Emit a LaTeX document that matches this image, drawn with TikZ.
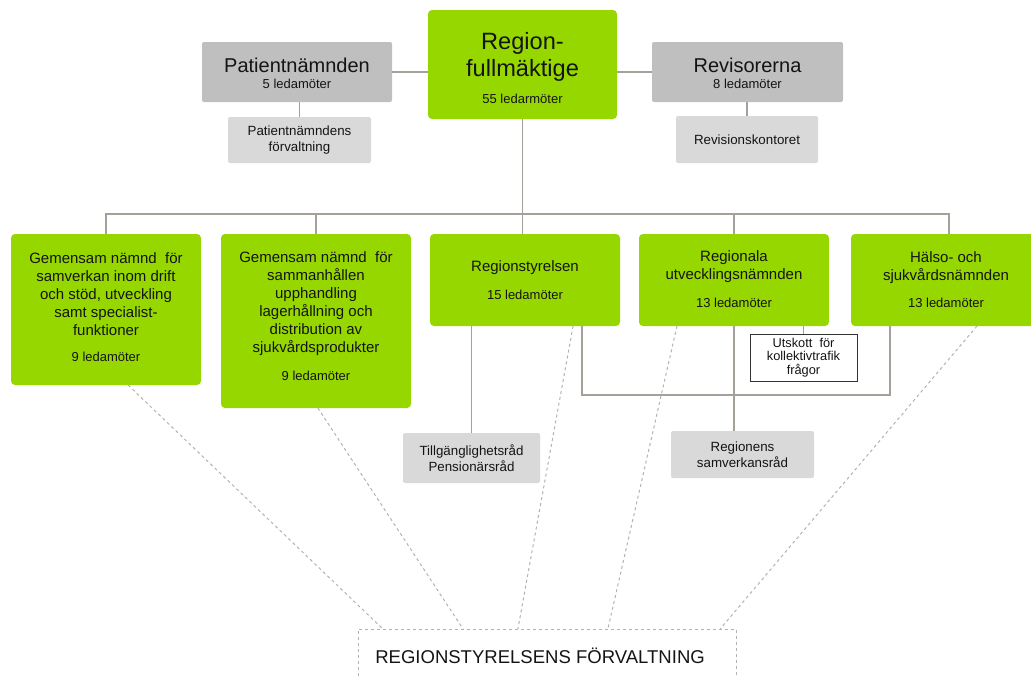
\documentclass[tikz,border=0pt]{standalone}
\usepackage{fontspec}
\setmainfont{Liberation Sans}
\usetikzlibrary{calc}
\definecolor{grn}{RGB}{151,215,0}
\definecolor{gdark}{RGB}{191,191,191}
\definecolor{glight}{RGB}{217,217,217}
\definecolor{conn}{RGB}{166,160,155}
\definecolor{dashgray}{RGB}{178,178,178}
\definecolor{txt}{RGB}{20,20,20}
\tikzset{
  bw/.style={minimum width=#1*0.75pt},
  bh/.style={minimum height=#1*0.75pt},
  boxbase/.style={inner sep=0pt, outer sep=0pt, text=txt, align=center},
  greenbox/.style={boxbase, fill=grn, rounded corners=3pt},
  graybox/.style={boxbase, fill=gdark, rounded corners=1.5pt},
  lightbox/.style={boxbase, fill=glight, rounded corners=1.5pt, font=\fontsize{10}{12}\selectfont},
  whitebox/.style={boxbase, fill=white, draw=black!80, line width=0.75pt, font=\fontsize{9.6}{10.1}\selectfont},
  dashbox/.style={boxbase, draw=dashgray, line width=0.75pt, dash pattern=on 2.25pt off 2.25pt},
  gtitle/.style={inner sep=0pt, text=txt, align=center, font=\fontsize{11.25}{13.5}\selectfont},
  cnt/.style={inner sep=0pt, text=txt, align=center, font=\fontsize{9.75}{11.7}\selectfont},
  bigtitle/.style={inner sep=0pt, text=txt, align=center, font=\fontsize{15}{18}\selectfont},
  conline/.style={draw=conn, line width=1.1pt},
  dline/.style={draw=dashgray, line width=0.75pt, dash pattern=on 2.25pt off 2.25pt}
}
\begin{document}
\begin{tikzpicture}[x=0.75pt,y=-0.75pt]
\useasboundingbox (0,0) rectangle (1031,675);

% --- top level boxes
\node[greenbox, bw=189, bh=109] (rf) at (522.5,64.5) {};
\node[inner sep=0pt, text=txt, align=center, font=\fontsize{17.7}{20.25}\selectfont] (rf-t) at (522.5,56.5) {Region-\\fullmäktige};
\node[cnt] (rf-c) at (522.5,99) {55 ledarmöter};

\node[graybox, bw=190, bh=60] (pat) at (297,72) {};
\node[bigtitle] (pat-t) at (297,65) {Patientnämnden};
\node[cnt] (pat-c) at (297,84) {5 ledamöter};

\node[graybox, bw=191, bh=60] (rev) at (747.5,72) {};
\node[bigtitle] (rev-t) at (747.5,65) {Revisorerna};
\node[cnt] (rev-c) at (747.5,84) {8 ledamöter};

\node[lightbox, bw=143, bh=46] (patf) at (299.5,140) {Patientnämndens\\förvaltning};
\node[lightbox, bw=142, bh=47] (revk) at (747,139.5) {Revisionskontoret};

% --- second level boxes
\node[greenbox, bw=190, bh=151] (g1) at (106,309.5) {};
\node[gtitle] (g1-t) at (106,294) {Gemensam nämnd\ \ för\\samverkan inom drift\\och stöd, utveckling\\samt specialist-\\funktioner};
\node[cnt] (g1-c) at (106,357) {9 ledamöter};

\node[greenbox, bw=190, bh=174] (g2) at (316,321) {};
\node[gtitle] (g2-t) at (316,303.5) {Gemensam nämnd\ \ för\\sammanhållen\\upphandling\\lagerhållning och\\distribution av\\sjukvårdsprodukter};
\node[cnt] (g2-c) at (316,376) {9 ledamöter};

\node[greenbox, bw=190, bh=92] (rs) at (525,280) {};
\node[gtitle] (rs-t) at (525,268) {Regionstyrelsen};
\node[cnt] (rs-c) at (525,295) {15 ledamöter};

\node[greenbox, bw=190, bh=92] (ru) at (734,280) {};
\node[gtitle] (ru-t) at (734,266.5) {Regionala\\utvecklingsnämnden};
\node[cnt] (ru-c) at (734,303) {13 ledamöter};

\node[greenbox, bw=190, bh=92] (hs) at (946,280) {};
\node[gtitle] (hs-t) at (946,267.5) {Hälso- och\\sjukvårdsnämnden};
\node[cnt] (hs-c) at (946,303) {13 ledamöter};

% --- lower boxes
\node[whitebox, bw=107, bh=47] (ut) at (803.5,357.5) {Utskott\ \ för\\kollektivtrafik\\frågor};
\node[lightbox, bw=137, bh=50] (tg) at (471.5,458) {Tillgänglighetsråd\\Pensionärsråd};
\node[lightbox, bw=143, bh=47] (sv) at (742.5,454.5) {Regionens\\samverkansråd};

\node[dashbox, bw=378, bh=70] (rsf) at (547,664) {};
\node[inner sep=0pt, text=txt, anchor=west, font=\fontsize{13.9}{16}\selectfont] (rsf-t) at (375,656) {REGIONSTYRELSENS FÖRVALTNING};

% --- solid connectors
\coordinate (bus) at (522.5,214);
\draw[conline] (pat.east) -- (pat.east -| rf.west);
\draw[conline] (rev.west) -- (rev.west -| rf.east);
\draw[conline] (patf.north) -- (patf.north |- pat.south);
\draw[conline] (revk.north) -- (revk.north |- rev.south);
\draw[conline] (rf.south) -- (rf.south |- rs.north);
\draw[conline] (g1.north) |- (bus) -| ([xshift=2.25pt]hs.north);
\draw[conline] (g2.north) -- (g2.north |- bus);
\draw[conline] (ru.north) -- (ru.north |- bus);
\draw[conline] (tg.north) -- (tg.north |- rs.south);
\draw[conline] (ru.south) -- (ru.south |- sv.north);
\draw[conline] (ut.north) -- (ut.north |- ru.south);
\coordinate (brl) at ($(rs.south west)!0.8!(rs.south east)$);
\coordinate (brr) at ($(hs.south west)!0.205!(hs.south east)$);
\draw[conline] (brl) -- ++(0,69) -| (brr);

% --- dashed connectors
\draw[dline] ($(g1.south west)!0.616!(g1.south east)$) -- ($(rsf.north west)!0.066!(rsf.north east)$);
\draw[dline] ($(g2.south west)!0.51!(g2.south east)$) -- ($(rsf.north west)!0.278!(rsf.north east)$);
\draw[dline] ($(rs.south west)!0.753!(rs.south east)$) -- ($(rsf.north west)!0.423!(rsf.north east)$);
\draw[dline] ($(ru.south west)!0.2!(ru.south east)$) -- ($(rsf.north west)!0.661!(rsf.north east)$);
\draw[dline] ($(hs.south west)!0.663!(hs.south east)$) -- ($(rsf.north west)!0.958!(rsf.north east)$);
\end{tikzpicture}
\end{document}
